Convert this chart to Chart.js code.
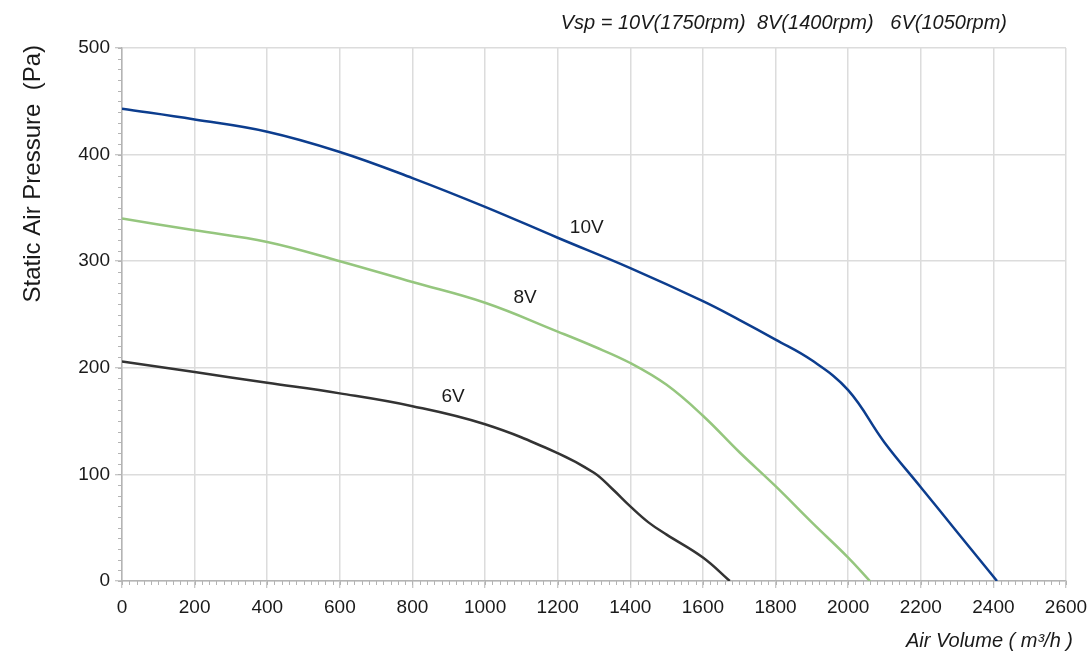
<!DOCTYPE html>
<html>
<head>
<meta charset="utf-8">
<script src="https://cdn.jsdelivr.net/npm/chart.js@4.4.1/dist/chart.umd.min.js"></script>
<style>
  html, body { margin: 0; padding: 0; background: #fff; }
</style>
</head>
<body>
<canvas id="fanChart" width="1091" height="652"></canvas>
<script>
// fan curves
const volume10 = [0, 200, 400, 600, 800, 1000, 1200, 1400, 1600, 1700, 1800, 1900, 2000, 2100, 2200, 2300, 2410];
const pressure10 = [443, 433, 421.5, 402.5, 378, 351, 322, 293.5, 262.5, 245, 226.5, 207, 179, 130, 88, 46, 0];

const volume8 = [0, 200, 400, 600, 800, 1000, 1200, 1300, 1400, 1500, 1600, 1700, 1800, 1900, 2000, 2060];
const pressure8 = [340, 329, 318, 300, 280.5, 261, 234, 220, 204.5, 184, 155, 121, 89, 55, 22, 0];

const volume6 = [0, 200, 400, 600, 800, 1000, 1200, 1300, 1350, 1400, 1450, 1500, 1600, 1674];
const pressure6 = [206, 196, 186, 176, 164, 147, 120, 101.5, 86.5, 70, 55, 43.5, 22, 0];

const seriesNames = ['10V', '8V', '6V'];
const seriesColors = ['#0c3d8e', '#95c67e', '#333333'];

// where the curve names sit (data coords)
const labelVolume = [1280, 1110, 912];
const labelPressure = [331, 266, 173];

const xMin = 0, xMax = 2600, xStep = 200, xMinorStep = 20;
const yMin = 0, yMax = 500, yStep = 100, yMinorStep = 10;

const headerText = 'Vsp = 10V(1750rpm)  8V(1400rpm)   6V(1050rpm)';
const xTitle = 'Air Volume ( m\u00B3/h )';
const yTitle = 'Static Air Pressure  (Pa)';

const FONT = '"Liberation Sans", Arial, sans-serif';
const axisGray = '#b4b4b4';
const textColor = '#1a1a1a';

const zip = (xs, ys) => xs.map((v, i) => ({ x: v, y: ys[i] }));

const minorTicks = {
  id: 'minorTicks',
  beforeDatasetsDraw(chart) {
    const { ctx, chartArea, scales: { x, y } } = chart;
    ctx.save();
    ctx.strokeStyle = axisGray;
    ctx.lineWidth = 1;
    ctx.beginPath();
    for (let v = xMin; v <= xMax; v += xMinorStep) {
      const px = Math.round(x.getPixelForValue(v)) + 0.5;
      ctx.moveTo(px, chartArea.bottom);
      ctx.lineTo(px, chartArea.bottom + 4);
    }
    for (let v = yMin; v <= yMax; v += yMinorStep) {
      const py = Math.round(y.getPixelForValue(v)) + 0.5;
      ctx.moveTo(chartArea.left, py);
      ctx.lineTo(chartArea.left - 4, py);
    }
    ctx.stroke();
    ctx.restore();
  }
};

const textBits = {
  id: 'textBits',
  afterDatasetsDraw(chart) {
    const { ctx, scales: { x, y } } = chart;
    ctx.save();
    ctx.fillStyle = textColor;

    // curve names
    ctx.font = '19px ' + FONT;
    ctx.textAlign = 'center';
    ctx.textBaseline = 'middle';
    seriesNames.forEach((name, i) => {
      ctx.fillText(name, x.getPixelForValue(labelVolume[i]), y.getPixelForValue(labelPressure[i]));
    });

    // header
    ctx.font = 'italic 20px ' + FONT;
    ctx.textAlign = 'right';
    ctx.textBaseline = 'alphabetic';
    ctx.fillText(headerText, 1007, 29);

    // x title
    ctx.fillText(xTitle, 1073, 647);

    // y title
    ctx.translate(40, 45);
    ctx.rotate(-Math.PI / 2);
    ctx.font = '24px ' + FONT;
    ctx.textAlign = 'right';
    ctx.fillText(yTitle, 0, 0);
    ctx.restore();
  }
};

new Chart(document.getElementById('fanChart'), {
  type: 'line',
  data: {
    datasets: [
      { label: seriesNames[0], data: zip(volume10, pressure10), borderColor: seriesColors[0] },
      { label: seriesNames[1], data: zip(volume8, pressure8), borderColor: seriesColors[1] },
      { label: seriesNames[2], data: zip(volume6, pressure6), borderColor: seriesColors[2] }
    ]
  },
  options: {
    responsive: false,
    animation: false,
    layout: { padding: { top: 48, right: 25, bottom: 0, left: 0 } },
    elements: {
      line: { borderWidth: 2.5, tension: 0.4, fill: false },
      point: { radius: 0 }
    },
    plugins: {
      legend: { display: false },
      tooltip: { enabled: false }
    },
    scales: {
      x: {
        type: 'linear',
        min: xMin,
        max: xMax,
        afterFit(scale) {
          scale.height = 71;
          scale.paddingLeft = 0;
          scale.paddingRight = 0;
        },
        ticks: {
          stepSize: xStep,
          maxRotation: 0,
          padding: 8,
          color: textColor,
          font: { family: FONT, size: 19 },
          callback: (v) => String(v)
        },
        grid: { color: '#dcdcdc', lineWidth: 1.5, tickLength: 7, tickColor: axisGray, tickWidth: 1 },
        border: { color: axisGray, width: 1.5 }
      },
      y: {
        type: 'linear',
        min: yMin,
        max: yMax,
        afterFit(scale) {
          scale.width = 122;
          scale.paddingTop = 0;
          scale.paddingBottom = 0;
        },
        ticks: {
          stepSize: yStep,
          padding: 5,
          color: textColor,
          font: { family: FONT, size: 19 },
          callback: (v) => String(v)
        },
        grid: { color: '#dcdcdc', lineWidth: 1.5, tickLength: 7, tickColor: axisGray, tickWidth: 1 },
        border: { color: axisGray, width: 1.5 }
      }
    }
  },
  plugins: [minorTicks, textBits]
});
</script>
</body>
</html>
